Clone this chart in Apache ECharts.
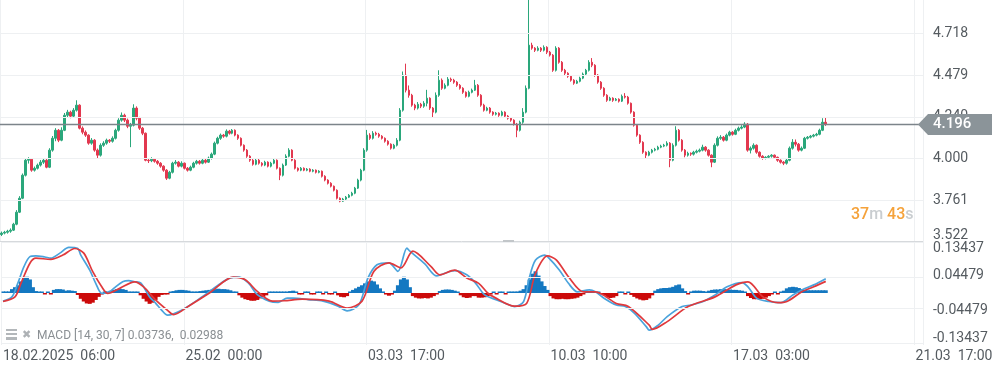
<!DOCTYPE html>
<html><head><meta charset="utf-8">
<script src="https://cdn.jsdelivr.net/npm/echarts@6/dist/echarts.min.js"></script>
<style>html,body{margin:0;padding:0;background:#fff}#c{width:997px;height:371px}</style>
</head><body><div id="c"></div>
<script>
// candles: [open, close, low, high]
const candles = [
[3.565,3.573,3.556,3.582],[3.573,3.578,3.566,3.586],[3.578,3.584,3.570,3.592],[3.584,3.590,3.575,3.600],[3.590,3.624,3.585,3.632],
[3.624,3.693,3.618,3.705],[3.693,3.773,3.688,3.785],[3.773,3.905,3.768,3.915],[3.905,3.991,3.898,4.003],[3.991,3.997,3.972,4.008],
[3.997,3.934,3.925,4.000],[3.934,3.945,3.926,3.955],[3.945,3.963,3.938,3.972],[3.963,3.980,3.955,3.992],[3.980,3.991,3.970,4.000],
[3.991,3.951,3.945,3.998],[3.951,4.049,3.946,4.060],[4.049,4.117,4.040,4.130],[4.117,4.163,4.100,4.175],[4.163,4.106,4.095,4.170],
[4.106,4.163,4.100,4.180],[4.163,4.249,4.158,4.262],[4.249,4.267,4.238,4.280],[4.267,4.244,4.232,4.275],[4.244,4.278,4.236,4.290],
[4.278,4.307,4.270,4.335],[4.307,4.175,4.168,4.312],[4.175,4.152,4.140,4.185],[4.152,4.135,4.125,4.162],[4.135,4.089,4.080,4.140],
[4.089,4.106,4.080,4.118],[4.106,4.049,4.040,4.112],[4.049,4.020,4.003,4.058],[4.020,4.077,4.012,4.088],[4.077,4.089,4.068,4.100],
[4.089,4.106,4.080,4.115],[4.106,4.100,4.090,4.112],[4.100,4.117,4.092,4.128],[4.117,4.163,4.110,4.172],[4.163,4.221,4.155,4.232],
[4.221,4.249,4.212,4.265],[4.249,4.221,4.210,4.258],[4.221,4.186,4.175,4.230],[4.186,4.192,4.066,4.205],[4.192,4.290,4.185,4.312],
[4.290,4.232,4.220,4.300],[4.232,4.175,4.165,4.240],[4.175,4.146,4.135,4.182],[4.146,3.991,3.985,4.150],[3.991,3.988,3.975,4.003],
[3.988,3.997,3.980,4.008],[3.997,3.985,3.977,4.003],[3.985,3.974,3.965,3.992],[3.974,3.957,3.948,3.980],[3.957,3.934,3.925,3.962],
[3.934,3.888,3.878,3.940],[3.888,3.922,3.882,3.930],[3.922,3.974,3.915,3.982],[3.974,3.980,3.966,3.992],[3.980,3.957,3.950,3.986],
[3.957,3.974,3.950,3.985],[3.974,3.945,3.938,3.978],[3.945,3.934,3.926,3.952],[3.934,3.951,3.928,3.960],[3.951,3.974,3.945,3.982],
[3.974,3.985,3.966,3.993],[3.985,3.974,3.966,3.992],[3.974,3.991,3.968,4.000],[3.991,3.980,3.972,3.998],[3.980,4.003,3.975,4.012],
[4.003,4.026,3.995,4.035],[4.026,4.089,4.020,4.098],[4.089,4.117,4.082,4.126],[4.117,4.135,4.108,4.144],[4.135,4.129,4.120,4.142],
[4.129,4.158,4.122,4.168],[4.158,4.146,4.138,4.165],[4.146,4.163,4.140,4.170],[4.163,4.135,4.128,4.168],[4.135,4.117,4.108,4.140],
[4.117,4.077,4.070,4.122],[4.077,4.049,4.040,4.082],[4.049,4.014,4.005,4.055],[4.014,3.991,3.982,4.020],[3.991,3.968,3.960,3.998],
[3.968,3.991,3.962,4.000],[3.991,3.974,3.966,3.998],[3.974,3.963,3.955,3.980],[3.963,3.980,3.957,3.988],[3.980,3.957,3.950,3.985],
[3.957,3.974,3.950,3.982],[3.974,3.991,3.968,3.998],[3.991,3.945,3.938,3.996],[3.945,3.905,3.877,3.950],[3.905,3.963,3.898,3.972],
[3.963,4.014,3.958,4.025],[4.014,4.049,4.008,4.060],[4.049,3.991,3.985,4.054],[3.991,3.945,3.938,3.997],[3.945,3.934,3.926,3.950],
[3.934,3.945,3.928,3.952],[3.945,3.934,3.928,3.950],[3.934,3.940,3.928,3.946],[3.940,3.928,3.922,3.945],[3.928,3.934,3.922,3.940],
[3.934,3.922,3.915,3.938],[3.922,3.928,3.916,3.934],[3.928,3.899,3.892,3.932],[3.899,3.877,3.870,3.905],[3.877,3.859,3.852,3.882],
[3.859,3.842,3.835,3.865],[3.842,3.819,3.812,3.846],[3.819,3.773,3.766,3.824],[3.773,3.756,3.750,3.778],[3.756,3.768,3.752,3.775],
[3.768,3.779,3.762,3.786],[3.779,3.790,3.774,3.797],[3.790,3.802,3.784,3.810],[3.802,3.831,3.796,3.838],[3.831,3.877,3.826,3.885],
[3.877,3.934,3.870,3.942],[3.934,4.049,3.928,4.060],[4.049,4.135,4.040,4.165],[4.135,4.117,4.108,4.146],[4.117,4.146,4.110,4.158],
[4.146,4.140,4.132,4.155],[4.140,4.129,4.120,4.148],[4.129,4.117,4.110,4.135],[4.117,4.100,4.092,4.122],[4.100,4.083,4.075,4.106],
[4.083,4.060,4.052,4.088],[4.060,4.077,4.054,4.085],[4.077,4.106,4.070,4.118],[4.106,4.278,4.100,4.290],[4.278,4.479,4.270,4.500],
[4.479,4.393,4.380,4.545],[4.393,4.364,4.350,4.420],[4.364,4.307,4.298,4.372],[4.307,4.290,4.278,4.315],[4.290,4.312,4.282,4.325],
[4.312,4.301,4.290,4.320],[4.301,4.318,4.292,4.330],[4.318,4.347,4.300,4.395],[4.347,4.290,4.280,4.352],[4.290,4.267,4.238,4.296],
[4.267,4.364,4.260,4.380],[4.364,4.450,4.355,4.507],[4.450,4.404,4.395,4.460],[4.404,4.421,4.398,4.432],[4.421,4.456,4.415,4.468],
[4.456,4.450,4.440,4.465],[4.450,4.439,4.430,4.458],[4.439,4.421,4.412,4.445],[4.421,4.404,4.396,4.428],[4.404,4.381,4.372,4.410],
[4.381,4.358,4.350,4.386],[4.358,4.381,4.352,4.390],[4.381,4.393,4.375,4.402],[4.393,4.421,4.388,4.452],[4.421,4.364,4.355,4.428],
[4.364,4.307,4.298,4.370],[4.307,4.278,4.270,4.315],[4.278,4.290,4.272,4.298],[4.290,4.267,4.258,4.296],[4.267,4.255,4.246,4.272],
[4.255,4.261,4.248,4.268],[4.261,4.249,4.240,4.266],[4.249,4.267,4.243,4.275],[4.267,4.244,4.236,4.272],[4.244,4.232,4.224,4.250],
[4.232,4.221,4.212,4.238],[4.221,4.198,4.190,4.226],[4.198,4.163,4.123,4.205],[4.163,4.209,4.156,4.218],[4.209,4.267,4.200,4.290],
[4.267,4.404,4.260,4.420],[4.404,4.651,4.398,4.950],[4.651,4.634,4.625,4.665],[4.634,4.622,4.612,4.640],[4.622,4.634,4.616,4.645],
[4.634,4.622,4.612,4.640],[4.622,4.639,4.615,4.650],[4.639,4.611,4.600,4.645],[4.611,4.594,4.586,4.618],[4.594,4.507,4.498,4.600],
[4.507,4.634,4.500,4.645],[4.634,4.553,4.545,4.640],[4.553,4.507,4.498,4.560],[4.507,4.490,4.480,4.515],[4.490,4.473,4.464,4.496],
[4.473,4.450,4.442,4.478],[4.450,4.433,4.424,4.456],[4.433,4.444,4.428,4.452],[4.444,4.462,4.438,4.470],[4.462,4.485,4.456,4.494],
[4.485,4.507,4.478,4.515],[4.507,4.553,4.500,4.565],[4.553,4.536,4.525,4.577],[4.536,4.479,4.470,4.542],[4.479,4.439,4.430,4.485],
[4.439,4.404,4.395,4.445],[4.404,4.364,4.355,4.410],[4.364,4.335,4.326,4.370],[4.335,4.347,4.330,4.355],[4.347,4.335,4.326,4.352],
[4.335,4.341,4.330,4.348],[4.341,4.330,4.322,4.346],[4.330,4.358,4.325,4.368],[4.358,4.353,4.345,4.376],[4.353,4.318,4.310,4.360],
[4.318,4.267,4.258,4.322],[4.267,4.192,4.184,4.272],[4.192,4.135,4.126,4.198],[4.135,4.094,4.085,4.140],[4.094,4.037,4.028,4.100],
[4.037,4.020,4.003,4.042],[4.020,4.037,4.014,4.045],[4.037,4.049,4.030,4.056],[4.049,4.054,4.042,4.062],[4.054,4.066,4.048,4.074],
[4.066,4.072,4.060,4.080],[4.072,4.077,4.066,4.085],[4.077,4.089,4.070,4.100],[4.089,3.991,3.951,4.095],[3.991,4.077,3.985,4.088],
[4.077,4.163,4.070,4.186],[4.163,4.106,4.098,4.170],[4.106,4.049,4.040,4.112],[4.049,4.020,4.008,4.055],[4.020,4.031,4.012,4.040],
[4.031,4.026,4.016,4.036],[4.026,4.037,4.018,4.045],[4.037,4.043,4.030,4.052],[4.043,4.049,4.036,4.058],[4.049,4.066,4.042,4.080],
[4.066,4.049,4.040,4.072],[4.049,4.020,4.012,4.054],[4.020,3.980,3.951,4.025],[3.980,4.077,3.975,4.088],[4.077,4.117,4.070,4.128],
[4.117,4.123,4.108,4.135],[4.123,4.106,4.098,4.130],[4.106,4.135,4.100,4.144],[4.135,4.152,4.128,4.160],[4.152,4.140,4.132,4.158],
[4.140,4.163,4.135,4.172],[4.163,4.175,4.156,4.184],[4.175,4.181,4.168,4.192],[4.181,4.198,4.175,4.209],[4.198,4.049,4.040,4.204],
[4.049,4.060,4.030,4.070],[4.060,4.077,4.052,4.088],[4.077,4.037,4.028,4.082],[4.037,4.014,4.006,4.042],[4.014,4.003,3.994,4.020],
[4.003,4.008,3.996,4.014],[4.008,4.014,4.000,4.020],[4.014,4.020,4.006,4.026],[4.020,4.008,4.000,4.024],[4.008,3.991,3.982,4.012],
[3.991,3.980,3.972,3.996],[3.980,3.974,3.963,3.986],[3.974,3.991,3.966,3.998],[3.991,4.060,3.985,4.070],[4.060,4.094,4.052,4.112],
[4.094,4.083,4.070,4.110],[4.083,4.049,4.040,4.090],[4.049,4.060,4.042,4.070],[4.060,4.117,4.055,4.125],[4.117,4.123,4.110,4.130],
[4.123,4.129,4.116,4.136],[4.129,4.135,4.122,4.142],[4.135,4.140,4.128,4.148],[4.140,4.163,4.134,4.172],[4.163,4.209,4.158,4.232],
[4.209,4.196,4.188,4.238]
];
// MACD line samples: [candle index, value]
const macdLine = [
[0,-0.021],[3,-0.010],[5,0.026],[7,0.068],[9,0.094],[11,0.096],[14,0.093],[16,0.090],[19,0.103],[22,0.118],[25,0.115],[26,0.098],
[29,0.059],[31,0.025],[33,-0.001],[35,0.000],[37,0.012],[40,0.029],[42,0.032],[44,0.029],[46,0.026],[49,-0.010],[51,-0.026],[53,-0.044],
[55,-0.057],[60,-0.043],[66,-0.013],[72,0.021],[76,0.039],[79,0.041],[82,0.026],[85,-0.004],[89,-0.021],[92,-0.024],[95,-0.013],[97,-0.013],
[102,-0.017],[107,-0.021],[112,-0.034],[115,-0.046],[119,-0.030],[122,0.039],[125,0.073],[129,0.078],[132,0.056],[135,0.116],[136,0.108],
[141,0.075],[145,0.044],[149,0.055],[151,0.058],[155,0.047],[158,0.025],[161,-0.005],[165,-0.018],[168,-0.027],[171,-0.035],[174,-0.022],
[176,0.042],[178,0.085],[181,0.098],[182,0.094],[186,0.059],[189,0.025],[192,0.003],[196,0.008],[198,0.003],[201,-0.014],[205,-0.031],
[208,-0.035],[211,-0.052],[215,-0.087],[216,-0.096],[219,-0.083],[222,-0.061],[227,-0.035],[230,-0.031],[234,-0.022],[238,-0.005],
[242,0.016],[247,0.027],[249,0.016],[252,-0.014],[256,-0.022],[260,-0.025],[264,-0.005],[267,0.008],[271,0.021],[275,0.037]
];
const signalLine = [
[0,-0.022],[4,-0.010],[6,0.025],[9,0.077],[11,0.090],[16,0.087],[20,0.098],[24,0.115],[27,0.103],[30,0.055],[33,0.016],[35,-0.001],
[39,0.012],[44,0.029],[47,0.016],[51,-0.018],[55,-0.045],[57,-0.056],[62,-0.034],[69,0.000],[77,0.041],[81,0.034],[85,0.004],[90,-0.021],
[94,-0.020],[100,-0.016],[109,-0.021],[115,-0.039],[120,-0.021],[124,0.056],[129,0.078],[133,0.065],[137,0.108],[143,0.069],[146,0.047],
[151,0.059],[155,0.039],[159,0.025],[162,0.000],[164,-0.010],[171,-0.034],[175,-0.027],[178,0.051],[182,0.096],[185,0.085],[189,0.042],
[194,0.003],[198,0.003],[205,-0.027],[209,-0.035],[216,-0.083],[217,-0.094],[222,-0.074],[229,-0.035],[238,-0.010],[245,0.021],[249,0.029],
[254,-0.010],[259,-0.025],[262,-0.022],[267,0.003],[271,0.016],[275,0.030]
];
const histogram = [
0.004,0.004,0.004,0.010,0.015,0.020,0.030,0.040,0.042,0.035,
0.015,0.005,0.001,0.000,-0.001,0.000,-0.002,0.008,0.010,0.010,
0.009,0.006,0.007,0.006,0.005,-0.005,-0.015,-0.022,-0.027,-0.028,
-0.025,-0.018,-0.010,-0.004,0.003,0.004,0.006,0.008,0.010,0.011,
0.010,0.008,0.004,0.001,0.001,0.000,-0.006,-0.015,-0.022,-0.028,
-0.025,-0.018,-0.010,-0.005,-0.004,-0.003,0.002,0.005,0.007,0.008,
0.008,0.007,0.006,0.004,0.003,0.004,0.005,0.006,0.007,0.008,
0.009,0.010,0.011,0.010,0.010,0.009,0.007,0.004,0.000,-0.006,
-0.012,-0.016,-0.018,-0.020,-0.020,-0.018,-0.014,-0.010,-0.006,0.001,
0.002,0.001,0.002,0.001,0.002,0.001,0.005,0.006,0.004,-0.001,
-0.002,0.001,0.001,-0.001,-0.001,0.001,0.001,-0.001,0.001,-0.002,
-0.002,0.001,-0.006,-0.010,-0.011,-0.008,0.004,0.008,0.012,0.016,
0.020,0.025,0.030,0.032,0.030,0.022,0.012,0.004,-0.004,-0.007,
-0.004,0.006,0.020,0.035,0.042,0.035,0.015,-0.008,-0.012,-0.014,
-0.014,-0.013,-0.014,-0.012,-0.008,-0.003,0.005,0.008,0.009,0.009,
0.008,0.006,0.002,-0.006,-0.011,-0.013,-0.012,-0.008,-0.008,-0.012,
-0.012,-0.011,-0.008,-0.004,0.001,-0.001,0.001,0.001,-0.001,0.001,
0.002,0.002,0.004,0.006,0.010,0.020,0.035,0.050,0.056,0.045,
0.030,0.018,0.008,-0.008,-0.014,-0.016,-0.016,-0.015,-0.016,-0.016,
-0.015,-0.014,-0.012,-0.008,-0.003,0.001,0.002,0.003,0.002,0.001,
-0.001,-0.006,-0.011,-0.013,-0.012,-0.008,0.001,0.001,-0.001,0.001,
-0.005,-0.010,-0.014,-0.017,-0.019,-0.018,-0.014,-0.006,0.006,0.010,
0.012,0.013,0.013,0.014,0.016,0.020,0.022,0.012,0.005,-0.002,
0.004,0.006,0.006,0.006,0.005,0.002,0.006,0.008,0.009,0.009,
0.010,0.010,0.009,0.009,0.008,0.008,0.007,0.006,0.003,-0.008,
-0.013,-0.016,-0.016,-0.016,-0.015,-0.012,-0.008,-0.003,0.001,-0.001,
0.001,0.006,0.012,0.015,0.016,0.015,0.013,0.010,0.008,0.007,
0.007,0.007,0.007,0.007,0.007,0.007
];
const priceTicks = [3.522, 3.761, 4.000, 4.240, 4.479, 4.718];
const macdTicks = [-0.13437, -0.04479, 0.04479, 0.13437];
const timeLabels = ['18.02.2025  06:00', '25.02  00:00', '03.03  17:00', '10.03  10:00', '17.03  03:00', '21.03  17:00'];
const lastPrice = 4.196;
const macdLegend = 'MACD [14, 30, 7] 0.03736,  0.02988';
const countdown = ['37', 'm ', '43', 's'];

const categoryCount = 308;
const labelEvery = 61;
const categories = Array.from({length: categoryCount}, (_, i) => String(i));

const FONT = 'Roboto';
const UP = '#2aa77b', DOWN = '#e2384f';
const gridColor = '#eef0f2';
const labelColor = '#555b60';

const chart = echarts.init(document.getElementById('c'), null, {renderer: 'canvas'});
const tickFilter = (i) => i % labelEvery === 0;

const option = {
  animation: false,
  backgroundColor: '#ffffff',
  grid: [
    {left: 0, right: 74, top: 0, height: 242},
    {left: 0, right: 74, top: 241, height: 104}
  ],
  xAxis: [
    {type: 'category', gridIndex: 0, data: categories, boundaryGap: true,
     axisLine: {show: false}, axisTick: {show: false}, axisLabel: {show: false},
     splitLine: {show: true, interval: tickFilter, lineStyle: {color: gridColor, width: 1}}},
    {type: 'category', gridIndex: 1, data: categories, boundaryGap: true,
     axisLine: {show: false}, axisTick: {show: false},
     axisLabel: {show: true, interval: tickFilter, align: 'left', margin: 4, color: labelColor,
       fontSize: 14, fontFamily: FONT,
       formatter: (v, i) => timeLabels[Math.round(i / labelEvery)] || ''},
     splitLine: {show: true, interval: tickFilter, lineStyle: {color: gridColor, width: 1}}}
  ],
  yAxis: [
    {type: 'value', gridIndex: 0, position: 'right', min: 3.522, max: 4.9102,
     axisLine: {show: false}, axisTick: {show: false}, splitLine: {show: false},
     axisLabel: {customValues: priceTicks, margin: 10, color: labelColor, fontSize: 14, fontFamily: FONT,
       formatter: (v) => v.toFixed(3), verticalAlignMinLabel: 'bottom'}},
    {type: 'value', gridIndex: 1, position: 'right', min: -0.13437, max: 0.13437,
     axisLine: {show: false}, axisTick: {show: false}, splitLine: {show: false},
     axisLabel: {customValues: macdTicks, margin: 10, color: labelColor, fontSize: 14, fontFamily: FONT,
       formatter: (v) => v.toFixed(5), verticalAlignMinLabel: 'bottom', verticalAlignMaxLabel: 'top'}}
  ],
  series: [
    {type: 'candlestick', xAxisIndex: 0, yAxisIndex: 0, data: candles, barWidth: 2, clip: true,
     itemStyle: {color: UP, color0: DOWN, borderColor: UP, borderColor0: DOWN, borderWidth: 1},
     markLine: {silent: true, symbol: ['none', 'none'], animation: false,
       label: {show: false},
       data: priceTicks.map(v => ({yAxis: v, lineStyle: {color: gridColor, width: 1, type: 'solid'}}))
         .concat([{yAxis: lastPrice, lineStyle: {color: '#7c848a', width: 1.3, type: 'solid'}}])}
    },
    {type: 'bar', xAxisIndex: 1, yAxisIndex: 1, data: histogram, barWidth: 4, barMinHeight: 1.5,
     itemStyle: {color: (p) => p.value >= 0 ? '#1478c1' : '#cc0a0a'},
     markLine: {silent: true, symbol: ['none', 'none'], animation: false, label: {show: false},
       data: macdTicks.map(v => ({yAxis: v, lineStyle: {color: gridColor, width: 1, type: 'solid'}}))}
    },
    {type: 'line', xAxisIndex: 1, yAxisIndex: 1, data: macdLine, smooth: 0.3, showSymbol: false,
     lineStyle: {color: '#4aa3dc', width: 1.7}},
    {type: 'line', xAxisIndex: 1, yAxisIndex: 1, data: signalLine, smooth: 0.3, showSymbol: false,
     lineStyle: {color: '#e0393c', width: 1.7}}
  ]
};
chart.setOption(option);

const py = chart.convertToPixel({xAxisIndex: 0, yAxisIndex: 0}, [0, lastPrice])[1];
const graphics = [
  {type: 'line', z: 50, shape: {x1: 0, y1: 241.5, x2: 923, y2: 241.5}, style: {stroke: '#d6d9dc', lineWidth: 1}},
  {type: 'rect', z: 51, shape: {x: 503, y: 240, width: 11, height: 2}, style: {fill: '#c2c6c9'}},
  {type: 'polygon', z: 60, shape: {points: [[918, py], [928, py - 10.5], [992, py - 10.5], [992, py + 10.5], [928, py + 10.5]]},
   style: {fill: '#8b9499'}},
  {type: 'text', z: 61, x: 933, y: py, style: {text: lastPrice.toFixed(3), fill: '#ffffff', font: '500 15px Roboto', verticalAlign: 'middle', align: 'left'}},
  {type: 'text', z: 61, x: 851, y: 215, style: {
    text: '{a|' + countdown[0] + '}{b|' + countdown[1] + '}{a|' + countdown[2] + '}{b|' + countdown[3] + '}',
    verticalAlign: 'middle',
    rich: {a: {fill: '#f5a23a', font: '500 16px Roboto'}, b: {fill: '#c9cdd0', font: '500 16px Roboto'}}}},
  {type: 'rect', z: 61, shape: {x: 6, y: 329, width: 11, height: 2}, style: {fill: '#b3b7ba'}},
  {type: 'rect', z: 61, shape: {x: 6, y: 333, width: 11, height: 2}, style: {fill: '#b3b7ba'}},
  {type: 'rect', z: 61, shape: {x: 6, y: 337, width: 11, height: 3}, style: {fill: '#b3b7ba'}},
  {type: 'text', z: 61, x: 22, y: 335, style: {text: '✖', fill: '#aeb2b5', font: 'bold 11px "DejaVu Sans"', verticalAlign: 'middle'}},
  {type: 'text', z: 61, x: 37, y: 336, style: {text: macdLegend, fill: '#8a8f93', font: '12px Roboto', verticalAlign: 'middle'}}
];
chart.setOption({graphic: graphics});
</script>
</body></html>
